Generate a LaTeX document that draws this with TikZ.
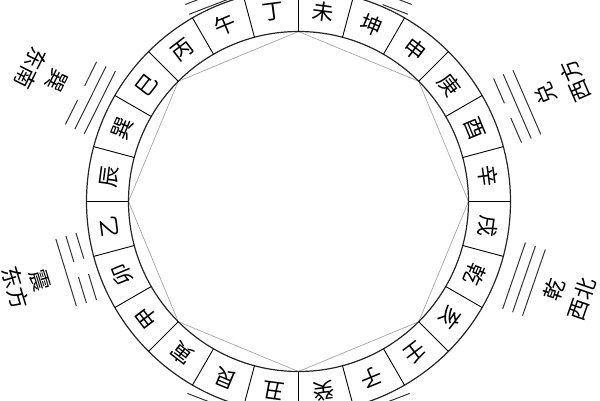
\documentclass[tikz,border=0pt]{standalone}
\usepackage{fontspec}
\setmainfont{Noto Sans CJK SC}
\usepackage{tikz}

\begin{document}
\begin{tikzpicture}[x=1pt,y=1pt,
		ring/.style={line width=1.2pt,black!85},
		octo/.style={line width=0.7pt,gray!70},
		yao/.style={line width=1pt,black!80},
		mtn/.style={inner sep=0pt,font=\fontsize{21.5}{21.5}\selectfont},
		gua/.style={inner sep=0pt,font=\fontsize{21.5}{21.5}\selectfont}]
			\path[use as bounding box] (-298.5,-198.5) rectangle (301.5,201.5);
			\clip (-298.5,-198.5) rectangle (301.5,201.5);
			% ring and octagon
			\draw[octo] (0:170) \foreach \k in {1,...,7} { -- (\k*45:170) } -- cycle;
			\draw[ring] (0,0) circle (170) (0,0) circle (212);
			\foreach \k in {0,...,23}
				\draw[line width=0.9pt] (\k*15:170) -- (\k*15:212);
			% twenty-four mountains
			\foreach \c [count=\i from 0, evaluate=\i as \a using -67.5+15*\i] in
				{子,壬,亥,乾,戌,辛,酉,庚,申,坤,未,丁,午,丙,巳,巽,辰,乙,卯,甲,寅,艮,丑,癸}
				\node[mtn, rotate=\a-90] (m\i) at (\a:191) {\c};
			% trigrams: bottom line outside
			\foreach \a/\r/\ba/\bb/\bc in
				{153.5/222/0/1/1, 111/214/1/0/1, 69/214/0/0/0, 23.5/228/1/1/0,
				-19/228/1/1/1, -69/219/0/1/0, -111/219/0/0/1, -163/222/1/0/0}
			{
				\begin{scope}[rotate=\a]
					\foreach \k/\s in {2/\ba,1/\bb,0/\bc}
					{
						\ifnum\s=1
							\draw[yao] (\r+10.5*\k,-35) -- (\r+10.5*\k,35);
						\else
							\draw[yao] (\r+10.5*\k,-35) -- (\r+10.5*\k,-8)
								(\r+10.5*\k,8) -- (\r+10.5*\k,35);
						\fi
					}
				\end{scope}
			}
			% names and directions
			\foreach \a/\nm/\dir/\dr/\id in {153.5/巽/东南/299/xun, -163/震/东方/296/zhen,
				23.5/兑/西方/302/dui, -19/乾/西北/300/qian}
			{
				\node[gua, rotate=\a+90] (\id) at (\a:270) {\nm};
				\node[gua, rotate=\a+90] (\id-dir) at (\a:\dr) {\dir};
			}
		\end{tikzpicture}
\end{document}
